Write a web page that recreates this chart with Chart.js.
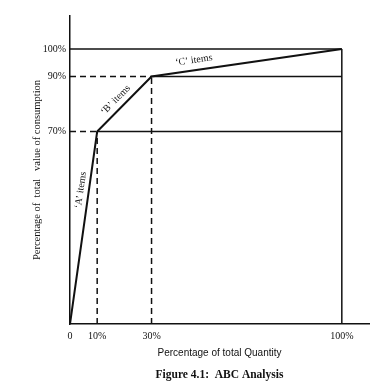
<!DOCTYPE html>
<html lang="en">
<head>
    <meta charset="UTF-8">
    <title>ABC Analysis</title>
    <script src="https://cdn.jsdelivr.net/npm/chart.js"></script>
    <style>
        body { margin: 0; background: #fff; }
        #wrap { width: 385px; height: 389px; }
    </style>
</head>
<body>
<div id="wrap"><canvas id="abcChart" width="385" height="389"></canvas></div>
<script>
// data
const qtyPct = [0, 10, 30, 100];       // % of total quantity
const valuePct = [0, 70, 90, 100];     // % of total value of consumption
const xTicks = [0, 10, 30, 100];
const yTicks = [70, 90, 100];
const segLabels = ['\u2018A\u2019 items', '\u2018B\u2019 items', '\u2018C\u2019 items'];
// where along each segment the label sits (0..1)
const segLabelAt = [0.69, 0.46, 0.23];
const segLabelGap = [3, 4, 5];

const ink = '#111';

// guide lines built from the break points
const guides = [];
for (let i = 1; i < qtyPct.length; i++) {
    const x = qtyPct[i], y = valuePct[i];
    const last = i === qtyPct.length - 1;
    // horizontal from y axis to the point
    guides.push({ data: [{x: 0, y: y}, {x: x, y: y}], dash: last ? [] : [6, 4] });
    // vertical from x axis to the point
    guides.push({ data: [{x: x, y: 0}, {x: x, y: y}], dash: last ? [] : [6, 4] });
    // solid line on to the right edge
    if (!last) guides.push({ data: [{x: x, y: y}, {x: qtyPct[qtyPct.length - 1], y: y}], dash: [] });
}

const datasets = guides.map(g => ({
    data: g.data,
    showLine: true,
    borderColor: ink,
    borderWidth: 1.5,
    borderDash: g.dash,
    pointRadius: 0
}));
datasets.push({
    data: qtyPct.map((q, i) => ({x: q, y: valuePct[i]})),
    showLine: true,
    borderColor: ink,
    borderWidth: 2,
    pointRadius: 0
});

const segmentText = {
    id: 'segmentText',
    afterDatasetsDraw(chart) {
        const {ctx, scales: {x, y}} = chart;
        ctx.save();
        ctx.fillStyle = ink;
        ctx.font = '10px "Liberation Serif", serif';
        ctx.textAlign = 'center';
        ctx.textBaseline = 'bottom';
        for (let i = 0; i < segLabels.length; i++) {
            const x0 = x.getPixelForValue(qtyPct[i]), y0 = y.getPixelForValue(valuePct[i]);
            const x1 = x.getPixelForValue(qtyPct[i + 1]), y1 = y.getPixelForValue(valuePct[i + 1]);
            const t = segLabelAt[i];
            const px = x0 + (x1 - x0) * t, py = y0 + (y1 - y0) * t;
            ctx.save();
            ctx.translate(px, py);
            ctx.rotate(Math.atan2(y1 - y0, x1 - x0));
            ctx.fillText(segLabels[i], 0, -segLabelGap[i]);
            ctx.restore();
        }
        ctx.restore();
    }
};

new Chart(document.getElementById('abcChart'), {
    type: 'scatter',
    data: { datasets: datasets },
    options: {
        responsive: false,
        animation: false,
        layout: { padding: { top: 16, right: 16, left: 0, bottom: 0 } },
        plugins: {
            legend: { display: false },
            tooltip: { enabled: false },
            title: {
                display: true,
                position: 'bottom',
                fullSize: false,
                text: 'Figure 4.1:  ABC Analysis',
                color: ink,
                font: { family: '"Liberation Serif", serif', size: 11.5, weight: 'bold' },
                padding: { top: 4, bottom: 7 }
            }
        },
        scales: {
            x: {
                type: 'linear',
                min: 0,
                max: 110,
                afterBuildTicks: s => { s.ticks = xTicks.map(v => ({ value: v })); },
                afterFit: s => { s.height = 389 - 323 - 25.8; },
                grid: { display: false, drawTicks: false },
                border: { color: ink, width: 1.5 },
                ticks: {
                    color: ink,
                    padding: 6,
                    maxRotation: 0,
                    font: { family: '"Liberation Serif", serif', size: 10 },
                    callback: v => v === 0 ? '0' : v + '%'
                },
                title: {
                    display: true,
                    text: 'Percentage of total Quantity',
                    color: ink,
                    font: { family: '"Liberation Sans", sans-serif', size: 10 },
                    padding: { top: 0, bottom: 5 }
                }
            },
            y: {
                type: 'linear',
                min: 0,
                max: 112,
                afterBuildTicks: s => { s.ticks = yTicks.map(v => ({ value: v })); },
                afterFit: s => { s.width = 70; },
                grid: { display: false, drawTicks: false },
                border: { color: ink, width: 1.5 },
                ticks: {
                    color: ink,
                    padding: 4,
                    font: { family: '"Liberation Serif", serif', size: 10 },
                    callback: v => v + '%'
                },
                title: {
                    display: true,
                    text: 'Percentage of  total   value of consumption',
                    color: ink,
                    font: { family: '"Liberation Serif", serif', size: 10.5 },
                    padding: { top: 30.5, bottom: 0 }
                }
            }
        }
    },
    plugins: [segmentText]
});
</script>
</body>
</html>
